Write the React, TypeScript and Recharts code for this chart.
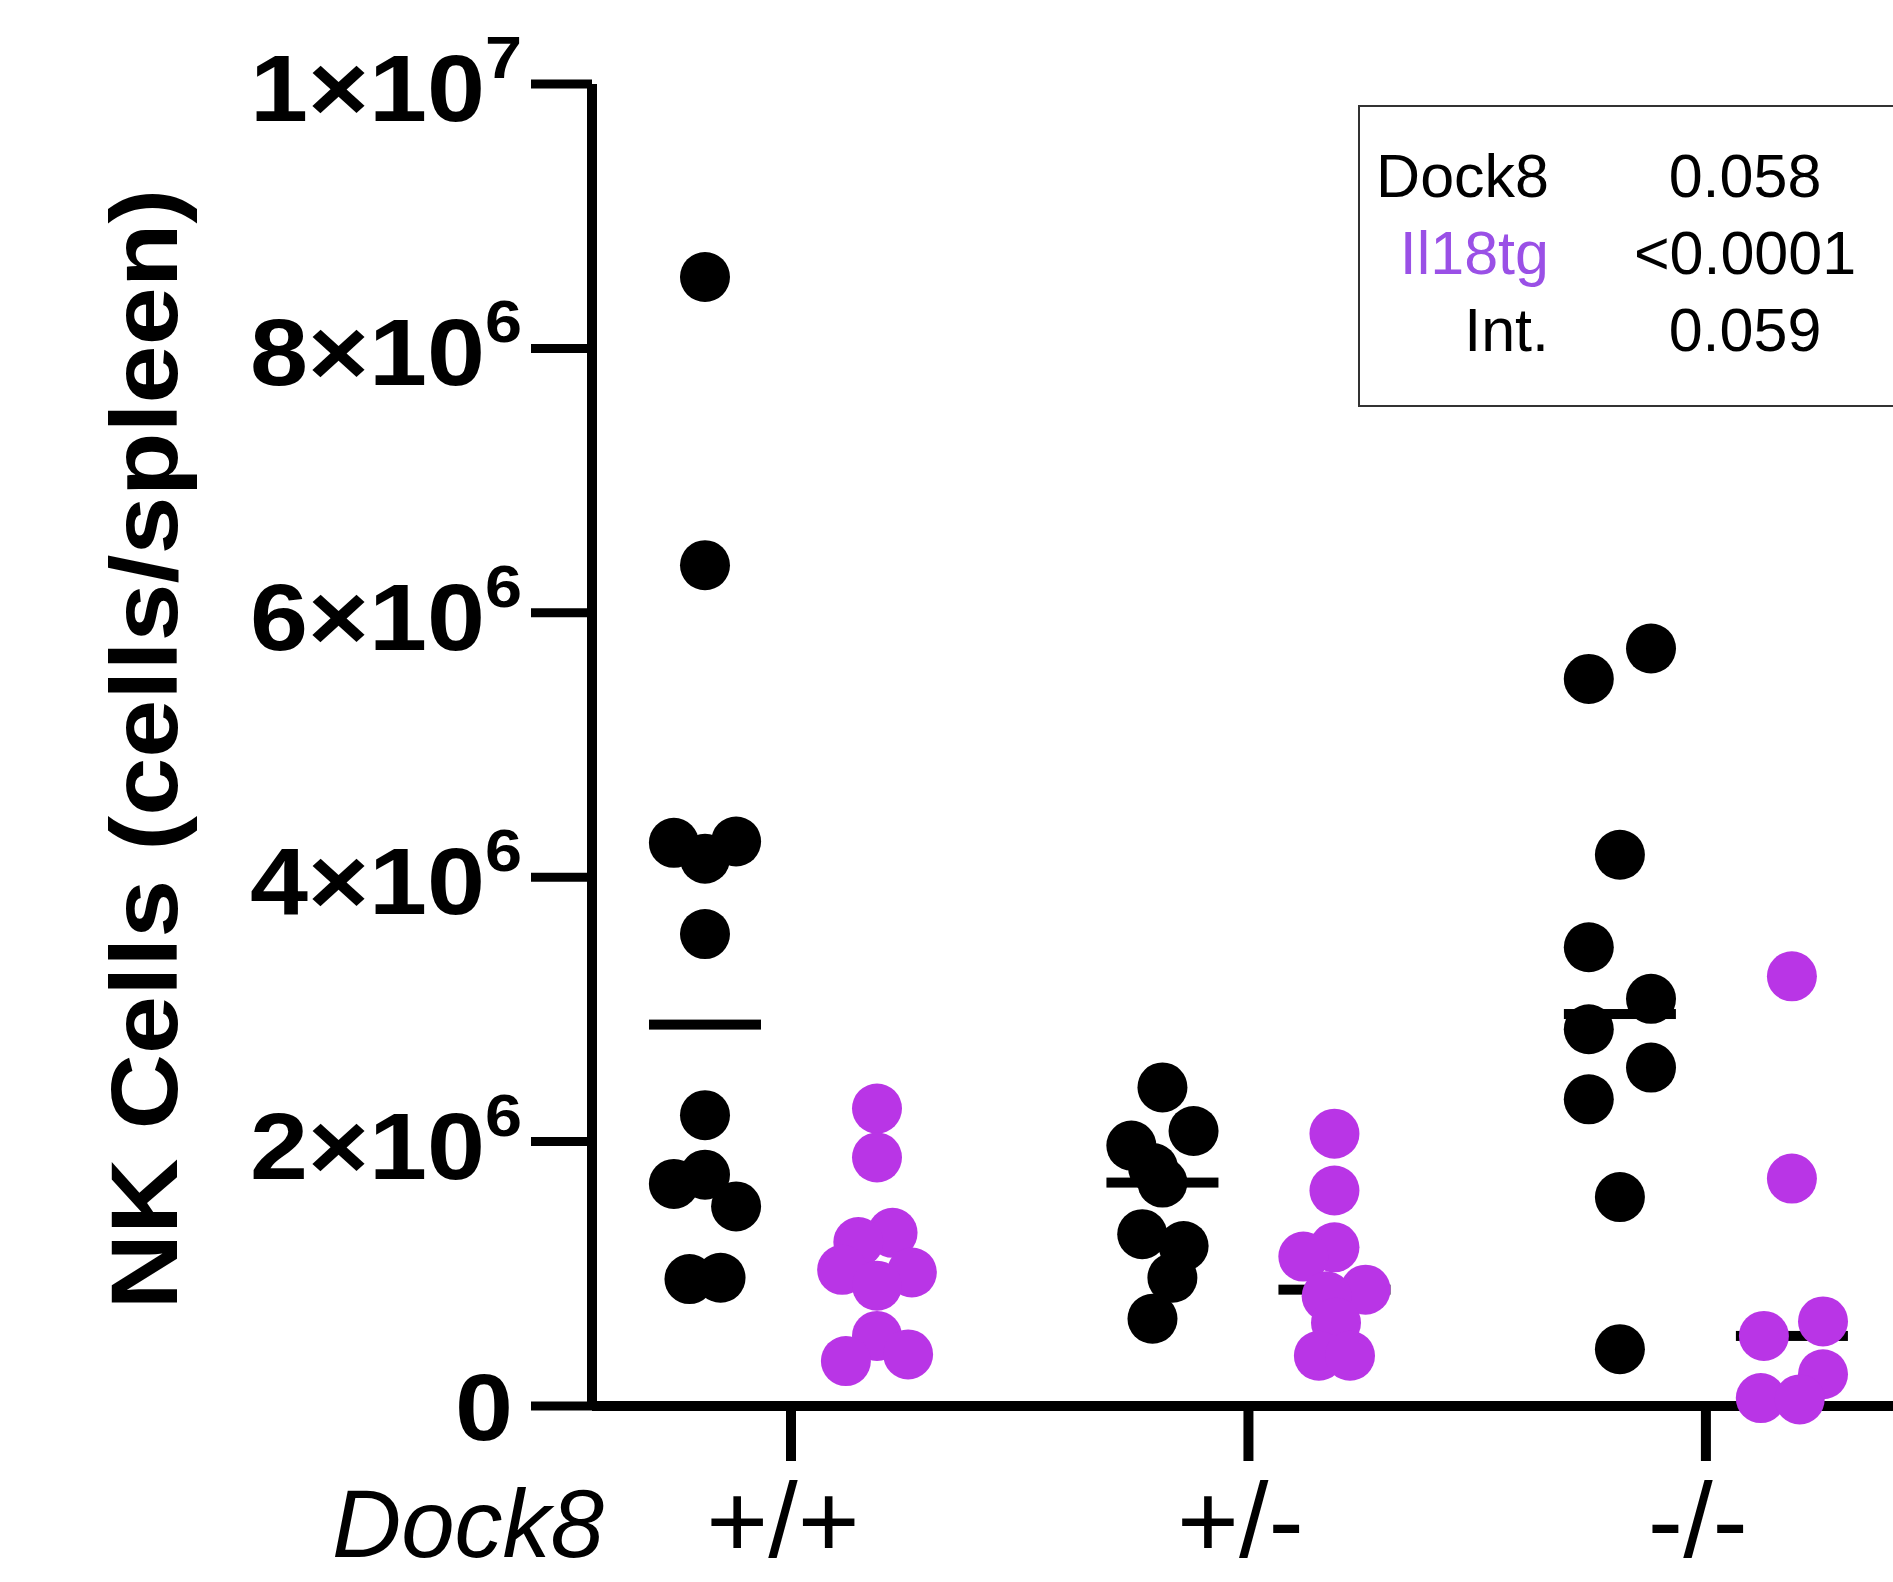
import React from "react";
import { ScatterChart, Scatter, XAxis, YAxis, Label } from "recharts";

// NK cells per spleen, in millions
const genotypes = ["+/+", "+/-", "-/-"];
const yTicks = [0, 2e6, 4e6, 6e6, 8e6, 1e7];

const wtDock8 = [8.54, 6.36, 4.26, 4.27, 4.14, 3.57, 2.2, 1.68, 1.75, 1.51, 0.96, 0.97];
const wtIl18 = [2.25, 1.88, 1.31, 1.24, 1.03, 1.01, 0.91, 0.53, 0.34, 0.39];
const hetDock8 = [2.41, 2.08, 1.97, 1.8, 1.69, 1.3, 1.21, 0.97, 0.66];
const hetIl18 = [2.06, 1.63, 1.2, 1.13, 0.88, 0.83, 0.63, 0.38, 0.38];
const koDock8 = [5.73, 5.5, 4.17, 3.47, 3.08, 2.85, 2.56, 2.32, 1.58, 0.43];
const koIl18 = [3.25, 1.72, 0.64, 0.53, 0.24, 0.06, 0.05];

// sideways spread of each dot in the swarm (in dot steps)
const wtDock8Spread = [0, 0, -1, 1, 0, 0, 0, -1, 0, 1, -0.5, 0.5];
const wtIl18Spread = [0, 0, 0.5, -0.6, -1.12, 1.12, 0, 0, -1, 1];
const hetDock8Spread = [0, 1, -1, -0.3, 0, -0.65, 0.68, 0.32, -0.32];
const hetIl18Spread = [0, 0, 0, -1, 1, -0.25, 0.05, -0.5, 0.5];
const koDock8Spread = [1, -1, 0, -1, 1, -1, 1, -1, 0, 0];
const koIl18Spread = [0, 0, 1, -0.9, 1, -1, 0.25];

// stats table
const statRows = ["Dock8", "Il18tg", "Int."];
const statValues = ["0.058", "<0.0001", "0.059"];

const BLACK = "#000000";
const PURPLE = "#b935e6";
const LEGEND_PURPLE = "#9a50e6";
const SIDE = 0.188;
const STEP = 0.068;
const MILLION = 1e6;

const blackGroups = [
  { values: wtDock8, spread: wtDock8Spread },
  { values: hetDock8, spread: hetDock8Spread },
  { values: koDock8, spread: koDock8Spread },
];
const purpleGroups = [
  { values: wtIl18, spread: wtIl18Spread },
  { values: hetIl18, spread: hetIl18Spread },
  { values: koIl18, spread: koIl18Spread },
];

function median(vals: number[]) {
  const s = [...vals].sort((a, b) => a - b);
  const m = Math.floor(s.length / 2);
  return s.length % 2 ? s[m] : (s[m - 1] + s[m]) / 2;
}

function toPoints(groups: { values: number[]; spread: number[] }[], side: number) {
  return groups.flatMap((g, gi) =>
    g.values.map((v, i) => ({ x: gi + side + g.spread[i] * STEP, y: v * MILLION }))
  );
}

function toMedians(groups: { values: number[] }[], side: number) {
  return groups.map((g, gi) => ({ x: gi + side, y: median(g.values) * MILLION }));
}

const blackPoints = toPoints(blackGroups, -SIDE);
const purplePoints = toPoints(purpleGroups, SIDE);
const medians = [...toMedians(blackGroups, -SIDE), ...toMedians(purpleGroups, SIDE)];

const font = "'Liberation Sans', Arial, sans-serif";

const Dot = (color: string) => (props: any) => (
  <circle cx={props.cx} cy={props.cy} r={25} fill={color} />
);

const MedianBar = (props: any) => (
  <rect x={props.cx - 56} y={props.cy - 5} width={112} height={10} fill={BLACK} />
);

const YTick = (props: any) => {
  const { x, y, payload } = props;
  const v = payload.value;
  if (v === 0) {
    return (
      <text
        transform={`translate(${x - 16},${y + 34}) scale(1.11,1)`}
        textAnchor="end"
        fontSize={94}
        fontWeight="bold"
        fontFamily={font}
        fill={BLACK}
      >
        0
      </text>
    );
  }
  const exp = Math.floor(Math.log10(v) + 1e-9);
  const mant = Math.round(v / Math.pow(10, exp));
  return (
    <text
      transform={`translate(${x - 7},${y + 37}) scale(1.11,1)`}
      textAnchor="end"
      fontSize={94}
      fontWeight="bold"
      fontFamily={font}
      fill={BLACK}
    >
      {mant}×10
      <tspan dy={-43} fontSize={60}>
        {exp}
      </tspan>
    </text>
  );
};

const XTick = (props: any) => {
  const { x, y, payload } = props;
  return (
    <text
      x={x - 8}
      y={y + 94}
      textAnchor="middle"
      fontSize={106}
      fontFamily={font}
      fill={BLACK}
    >
      {genotypes[payload.value]}
    </text>
  );
};

const YTitle = (props: any) => {
  const vb = props.viewBox;
  const cy = vb.y + vb.height / 2 + 4;
  return (
    <text
      transform={`translate(177,${cy}) rotate(-90) scale(1.1,1)`}
      textAnchor="middle"
      fontSize={95}
      fontWeight="bold"
      fontFamily={font}
      fill={BLACK}
    >
      NK Cells (cells/spleen)
    </text>
  );
};

const XTitle = (props: any) => {
  const vb = props.viewBox;
  return (
    <text
      x={vb.x + 12}
      y={vb.y + 151}
      textAnchor="end"
      fontSize={96}
      fontStyle="italic"
      fontFamily={font}
      fill={BLACK}
    >
      Dock8
    </text>
  );
};

function StatsBox() {
  return (
    <svg
      width={1893}
      height={1582}
      style={{ position: "absolute", left: 0, top: 0, pointerEvents: "none" }}
    >
      <rect x={1359} y={106} width={600} height={300} fill="white" stroke="#333" strokeWidth={2} />
      {statRows.map((r, i) => (
        <text
          key={r}
          x={1549}
          y={197 + i * 77}
          textAnchor="end"
          fontSize={61}
          fontFamily={font}
          fill={i === 1 ? LEGEND_PURPLE : BLACK}
        >
          {r}
        </text>
      ))}
      {statValues.map((v, i) => (
        <text
          key={v + i}
          x={1745}
          y={197 + i * 77}
          textAnchor="middle"
          fontSize={61}
          fontFamily={font}
          fill={BLACK}
        >
          {v}
        </text>
      ))}
    </svg>
  );
}

export default function App() {
  return (
    <div style={{ position: "absolute", left: 0, top: 0, width: 1893, height: 1582, background: "white" }}>
      <ScatterChart width={1893} height={1582} margin={{ top: 84, right: 0, bottom: 0, left: 0 }}>
        <XAxis
          type="number"
          dataKey="x"
          domain={[-0.435, 2.409]}
          ticks={[0, 1, 2]}
          height={176}
          tickSize={55}
          axisLine={{ stroke: BLACK, strokeWidth: 10 }}
          tickLine={{ stroke: BLACK, strokeWidth: 10 }}
          tick={XTick}
        >
          <Label content={XTitle} />
        </XAxis>
        <YAxis
          type="number"
          dataKey="y"
          domain={[0, 1e7]}
          ticks={yTicks}
          width={592}
          tickSize={61}
          axisLine={{ stroke: BLACK, strokeWidth: 10 }}
          tickLine={{ stroke: BLACK, strokeWidth: 9 }}
          tick={YTick}
        >
          <Label content={YTitle} />
        </YAxis>
        <Scatter data={medians} shape={MedianBar} isAnimationActive={false} />
        <Scatter data={blackPoints} shape={Dot(BLACK)} isAnimationActive={false} />
        <Scatter data={purplePoints} shape={Dot(PURPLE)} isAnimationActive={false} />
      </ScatterChart>
      <StatsBox />
    </div>
  );
}
